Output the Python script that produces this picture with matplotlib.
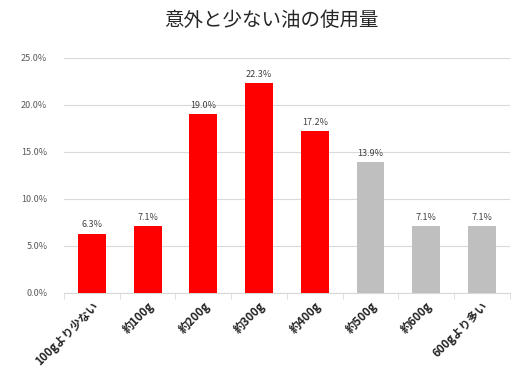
import matplotlib
matplotlib.use("Agg")
import matplotlib.pyplot as plt
import numpy as np

plt.rcParams['font.family'] = ['Noto Sans CJK JP', 'DejaVu Sans']

title_text = "意外と少ない油の使用量"
categories = ["100gより少ない", "約100g", "約200g", "約300g", "約400g", "約500g", "約600g", "600gより多い"]
values = [6.3, 7.1, 19.0, 22.3, 17.2, 13.9, 7.1, 7.1]
colors = ["#FF0000"] * 5 + ["#BFBFBF"] * 3

fig = plt.figure(figsize=(5.22, 3.81), dpi=100)
ax = fig.add_axes([0.1226, 0.231, 0.854, 0.617])

x = np.arange(len(categories))
ax.bar(x, values, width=0.5, color=colors, zorder=3)

for xi, v in zip(x, values):
    ax.text(xi, v + 0.5, "%.1f%%" % v, ha='center', va='bottom',
            fontsize=6.5, color='#404040')

ax.set_xlim(-0.5, len(categories) - 0.5)
ax.set_ylim(0, 25)
ax.set_yticks(np.arange(0, 25.1, 5))
ax.set_yticklabels(["%.1f%%" % t for t in np.arange(0, 25.1, 5)],
                   fontsize=6.5, color='#595959')
ax.yaxis.grid(True, color='#D9D9D9', linewidth=0.8, zorder=0)
ax.tick_params(axis='y', length=0, pad=12)

ax.set_xticks(x)
ax.set_xticklabels(categories, rotation=45, ha='right', rotation_mode='anchor',
                   fontsize=8.2, fontweight='bold', color='#262626')
ax.tick_params(axis='x', length=0, pad=5)
ax.set_xticks(np.arange(-0.5, len(categories)), minor=True)
ax.tick_params(axis='x', which='minor', length=4, color='#D9D9D9')

for s in ['top', 'right', 'left']:
    ax.spines[s].set_visible(False)
ax.spines['bottom'].set_color('#D9D9D9')

fig.text(0.52, 0.945, title_text, ha='center', va='center', fontsize=14, color='#262626')

fig.savefig("out.png", dpi=100)
